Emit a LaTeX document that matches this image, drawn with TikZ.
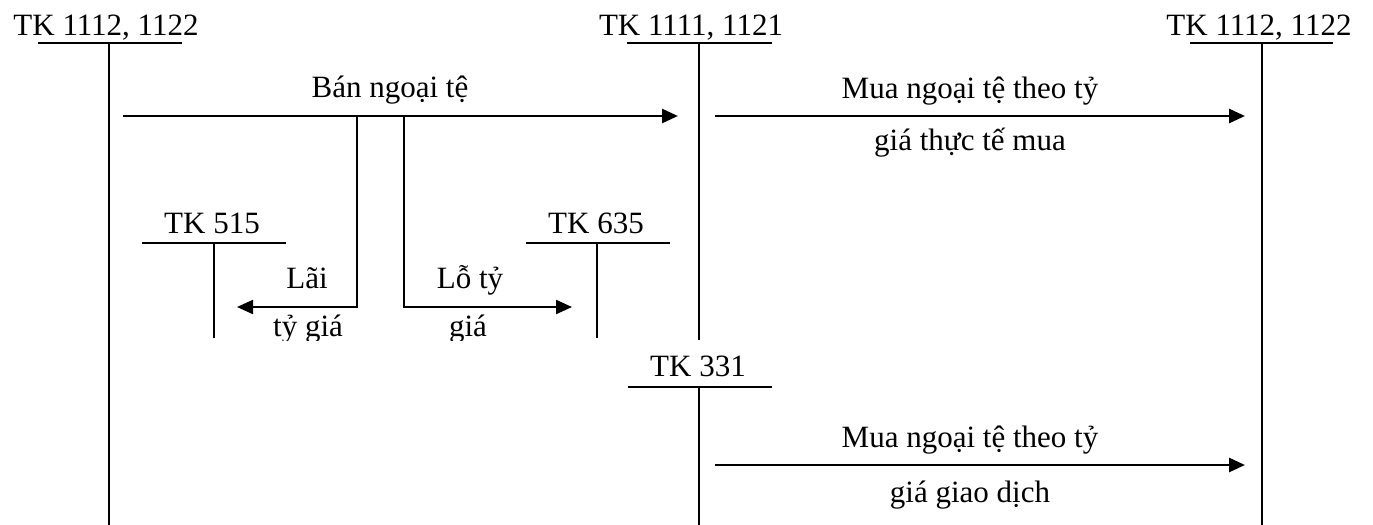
\documentclass[tikz,border=0pt]{standalone}
\usepackage{fontspec}
\setmainfont{Liberation Serif}
\usetikzlibrary{arrows.meta}
\begin{document}
\begin{tikzpicture}[x=0.5pt, y=-0.5pt,
    every node/.style={font=\fontsize{15.5}{18}\selectfont, inner sep=0pt},
    tacc/.style={line width=0.9pt},
    flow/.style={line width=1.4pt, -{Triangle[length=8pt, width=7pt]}},
    branch/.style={line width=1.1pt}]
    \useasboundingbox (0,0) rectangle (1373,525);
    % Tài khoản chữ T phía trên
    \node[anchor=base] (tkL) at (106,35) {TK 1112, 1122};
    \draw[tacc] (38,43) -- (182,43);
    \draw[tacc] (109,43) -- (109,525);
    \node[anchor=base] (tkM) at (691,35) {TK 1111, 1121};
    \draw[tacc] (627,43) -- (772,43);
    \draw[tacc] (699,43) -- (699,340);
    \node[anchor=base] (tkR) at (1259,35) {TK 1112, 1122};
    \draw[tacc] (1190,43) -- (1333,43);
    \draw[tacc] (1262,43) -- (1262,525);
    % TK 515 và TK 635
    \node[anchor=base] (tk515) at (212,233) {TK 515};
    \draw[tacc] (142,243) -- (286,243);
    \draw[tacc] (214,243) -- (214,338);
    \node[anchor=base] (tk635) at (596,233) {TK 635};
    \draw[tacc] (526,243) -- (670,243);
    \draw[tacc] (597,243) -- (597,338);
    % TK 331
    \node[anchor=base] (tk331) at (698,376) {TK 331};
    \draw[tacc] (628,387) -- (772,387);
    \draw[tacc] (699,387) -- (699,525);
    % Bán ngoại tệ
    \coordinate (banA) at (123,116);
    \coordinate (banB) at (678,116);
    \draw[flow] (banA) -- (banB);
    \node[anchor=base] (ban) at (390,97) {Bán ngoại tệ};
    % Nhánh lãi / lỗ tỷ giá
    \coordinate (laiA) at (357,116);
    \coordinate (laiB) at (237,307);
    \draw[branch, -{Triangle[length=8pt, width=7pt]}] (laiA) |- (laiB);
    \node[anchor=base] (lai) at (307,288) {Lãi};
    \coordinate (loA) at (404,116);
    \coordinate (loB) at (572,307);
    \draw[branch, -{Triangle[length=8pt, width=7pt]}] (loA) |- (loB);
    \node[anchor=base] (lo) at (470,288) {Lỗ tỷ};
    \begin{scope}
        \clip (0,0) rectangle (1373,340);
        \node[anchor=base] (laiT) at (308,336) {tỷ giá};
        \node[anchor=base] (loT) at (468,336) {giá};
    \end{scope}
    % Mua ngoại tệ theo tỷ giá thực tế mua
    \coordinate (muaA) at (715,116);
    \coordinate (muaB) at (1245,116);
    \draw[flow] (muaA) -- (muaB);
    \node[anchor=base] (mua1) at (970,98) {Mua ngoại tệ theo tỷ};
    \node[anchor=base] (mua1b) at (970,150) {giá thực tế mua};
    % Mua ngoại tệ theo tỷ giá giao dịch
    \coordinate (muaC) at (715,465);
    \coordinate (muaD) at (1245,465);
    \draw[flow] (muaC) -- (muaD);
    \node[anchor=base] (mua2) at (970,447) {Mua ngoại tệ theo tỷ};
    \node[anchor=base] (mua2b) at (970,502) {giá giao dịch};
\end{tikzpicture}
\end{document}
